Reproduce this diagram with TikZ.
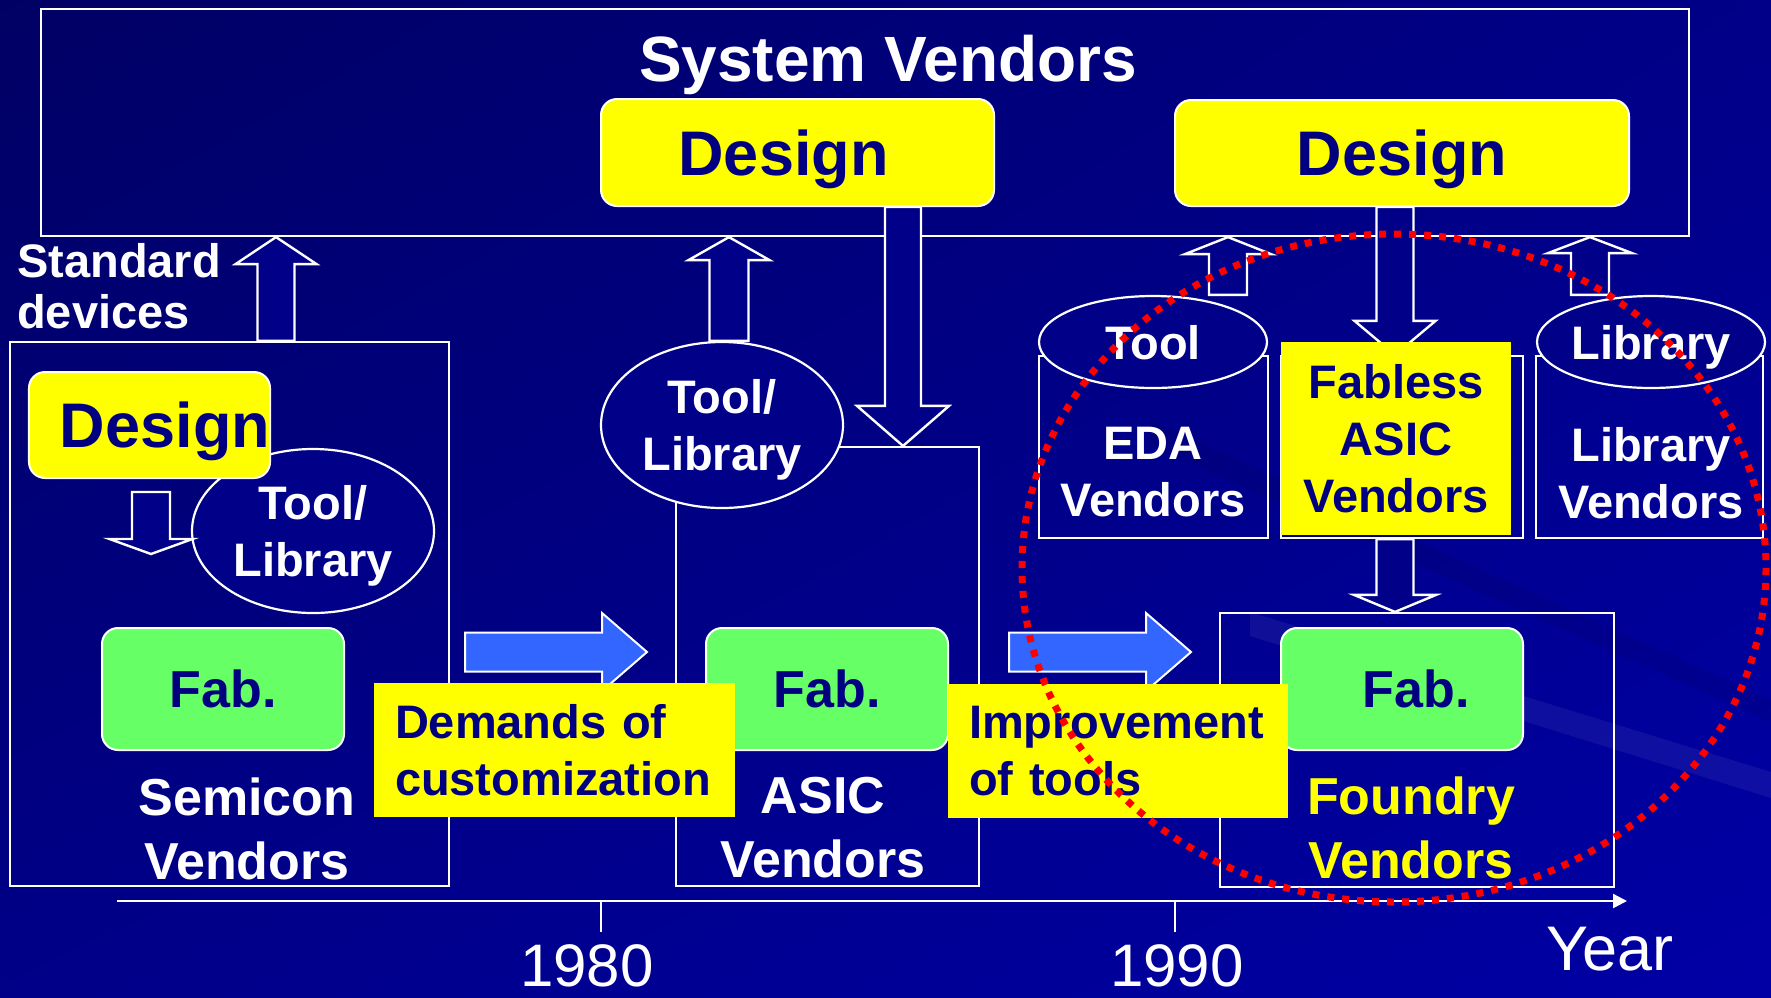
\documentclass[tikz,border=0pt]{standalone}
\usepackage{fontspec}
\setmainfont{Liberation Sans}
\usetikzlibrary{calc,arrows.meta,shapes.geometric,shadings,positioning}

\definecolor{bgdark}{RGB}{0,0,100}
\definecolor{bgblue}{RGB}{0,0,136}
\definecolor{bglight}{RGB}{0,0,165}
\definecolor{navytext}{RGB}{0,0,128}
\definecolor{boxyellow}{RGB}{255,255,0}
\definecolor{fabgreen}{RGB}{102,255,102}
\definecolor{flowblue}{RGB}{51,102,255}

\newcommand{\fsz}[2]{\fontsize{#1}{#2}\selectfont}
% hollow block arrow: [style]{from}{to}{half shaft}{half head}{head length}
\newcommand{\blockarrow}[6][]{%
  \coordinate (hb) at ($(#3)!#6!(#2)$);
  \draw[blk,#1] ($(#2)!#4!90:(#3)$) -- ($(hb)!#4!90:(#3)$) -- ($(hb)!#5!90:(#3)$) -- (#3)
    -- ($(hb)!#5!-90:(#3)$) -- ($(hb)!#4!-90:(#3)$) -- ($(#2)!#4!-90:(#3)$) -- cycle;}

\begin{document}
\begin{tikzpicture}[x=1pt, y=-1pt,
  frame/.style={draw=white, line width=2.2pt, inner sep=0pt},
  oval/.style={ellipse, draw=white, fill=bgblue, line width=2.2pt, text=white, align=center,
    inner sep=0pt, text depth=0pt, font=\bfseries\fsz{47}{57}},
  design/.style={fill=boxyellow, draw=white, line width=2pt, rounded corners=16pt, inner sep=0pt,
    text=navytext, text depth=0pt, font=\bfseries\fsz{63}{70}},
  fab/.style={fill=fabgreen, draw=white, line width=2pt, rounded corners=16pt, inner sep=0pt,
    text=navytext, text depth=0pt, font=\bfseries\fsz{52}{60}},
  note/.style={fill=boxyellow, text=navytext, align=left, inner xsep=21pt, inner ysep=0pt,
    font=\bfseries\fsz{47}{57}},
  lbl/.style={text=white, align=center, inner sep=0pt, anchor=north},
  blk/.style={draw=white, line width=2.4pt, fill=bgblue},
  flow/.style={fill=flowblue, line width=2pt},
  timeline/.style={draw=white, line width=2.4pt},
  redring/.style={draw=red, line width=7pt, dash pattern=on 7pt off 8pt}]
\useasboundingbox (0,0) rectangle (1771,997);
\shade[upper left=bgdark, upper right=bgblue, lower left=bgblue, lower right=bglight] (0,0) rectangle (1771,997);
\fill[black, opacity=0.07] (1150,420) -- (1771,700) -- (1771,722) -- (1150,445) -- cycle;
\fill[white, opacity=0.06] (1250,612) -- (1771,772) -- (1771,798) -- (1250,636) -- cycle;

% vendor frames
\node[frame, minimum width=1648pt, minimum height=227pt] (sys) at (865,122.5) {};
\node[frame, minimum width=439pt, minimum height=544pt] (semicon) at (229.5,614) {};
\node[frame, minimum width=303pt, minimum height=439pt] (asic) at (827.5,666.5) {};
\node[frame, minimum width=394pt, minimum height=274pt] (foundry) at (1417,750) {};
\node[frame, minimum width=229pt, minimum height=182pt] (eda) at (1153.5,447) {};
\node[frame, minimum width=242pt, minimum height=182pt] (fabframe) at (1402,447) {};
\node[frame, minimum width=227pt, minimum height=182pt] (libvend) at (1649.5,447) {};

% tools and libraries
\node[oval, minimum width=242pt, minimum height=164pt] (semioval) at (313,531) {Tool/\\Library};
\node[oval, minimum width=242pt, minimum height=166pt] (asicoval) at (722,425) {Tool/\\Library};
\node[oval, minimum width=228pt, minimum height=92pt] (tooloval) at (1153,342) {Tool};
\node[oval, minimum width=228pt, minimum height=92pt] (liboval) at (1651,342) {Library};

% design
\node[design, minimum width=393pt, minimum height=107pt] (design1) at (797.5,152.5) {Design\hspace*{28pt}};
\node[design, minimum width=454pt, minimum height=106pt] (design2) at (1402,153) {Design};
\node[design, minimum width=241pt, minimum height=106pt] (design0) at (149.5,425) {\hspace*{31pt}Design};

% hollow arrows
\coordinate (xs) at (276,0);
\coordinate (xa) at (729,0);
\coordinate (xb) at (903,0);
\coordinate (xe) at (1228,0);
\coordinate (xl) at (1590,0);
\coordinate (xf) at (1395,0);
\coordinate (sa0) at (151,492);
\coordinate (sa1) at (151,554);
\blockarrow{semicon.north -| xs}{sys.south -| xs}{18.5pt}{40.5pt}{27pt}
\blockarrow{asicoval.north -| xa}{sys.south -| xa}{19.5pt}{40.5pt}{23pt}
\blockarrow{design1.south -| xb}{asic.north -| xb}{18pt}{46pt}{40pt}
\blockarrow{tooloval.north -| xe}{sys.south -| xe}{19pt}{43pt}{17pt}
\blockarrow{liboval.north -| xl}{sys.south -| xl}{19pt}{42pt}{16pt}
\blockarrow{design2.south -| xf}{fabframe.north -| xf}{18.5pt}{40.5pt}{34pt}
\blockarrow{fabframe.south -| xf}{foundry.north -| xf}{18.5pt}{41pt}{17pt}
\blockarrow{sa0}{sa1}{19pt}{41.5pt}{15pt}

% fabs
\node[fab, minimum width=242pt, minimum height=122pt] (fab1) at (223,689) {Fab.};
\node[fab, minimum width=242pt, minimum height=122pt] (fab2) at (827,689) {Fab.};
\node[fab, minimum width=242pt, minimum height=122pt] (fab3) at (1402,689) {\hspace*{28pt}Fab.};

% trends
\coordinate (ba1s) at (465,652);
\coordinate (ba1e) at (647,652);
\coordinate (ba2s) at (1009,652);
\coordinate (ba2e) at (1191,652);
\blockarrow[flow]{ba1s}{ba1e}{19.5pt}{39pt}{45pt}
\blockarrow[flow]{ba2s}{ba2e}{19.5pt}{39pt}{45pt}
\node[note, text width=319pt, minimum height=134pt] (demands) at (554.5,750) {Demands of\\customization};
\node[note, text width=298pt, minimum height=134pt] (improve) at (1118,751) {Improvement\\of tools};
\node[note, align=center, text width=230pt, inner xsep=0pt, minimum height=193pt] (fabless) at (1396,438.5) {Fabless\\ASIC\\Vendors};

% labels
\node[lbl, font=\bfseries\fsz{64}{70}] (systxt) at (888,35) {System Vendors};
\node[lbl, anchor=north west, align=left, font=\bfseries\fsz{47}{51}] (stdtxt) at (17,243) {Standard\\devices};
\node[lbl, font=\bfseries\fsz{52}{64}] (semitxt) at (247,778) {Semicon\\Vendors};
\node[lbl, font=\bfseries\fsz{52}{64}] (asictxt) at (823,777) {ASIC\\Vendors};
\node[lbl, text=boxyellow, font=\bfseries\fsz{52}{64}] (foundtxt) at (1411,777) {Foundry\\Vendors};
\node[lbl, font=\bfseries\fsz{47}{57}] (edatxt) at (1153,427) {EDA\\Vendors};
\node[lbl, font=\bfseries\fsz{47}{57}] (libtxt) at (1651,427) {Library\\Vendors};

% time axis
\coordinate (t0) at (117,901);
\coordinate (t1) at (1627,901);
\draw[timeline, -{Triangle[width=14pt,length=14pt]}] (t0) -- (t1);
\foreach \tx/\yr/\lx in {601/1980/587, 1175/1990/1177}{
  \draw[timeline] (\tx,901) -- (\tx,932);
  \node[lbl, font=\fsz{60}{66}] (yr\yr) at (\lx,944) {\yr};}
\node[lbl, font=\fsz{63}{70}] (yeartxt) at (1610,927) {Year};

\draw[redring] (1394,568) ellipse [x radius=372, y radius=334];
\end{tikzpicture}
\end{document}
